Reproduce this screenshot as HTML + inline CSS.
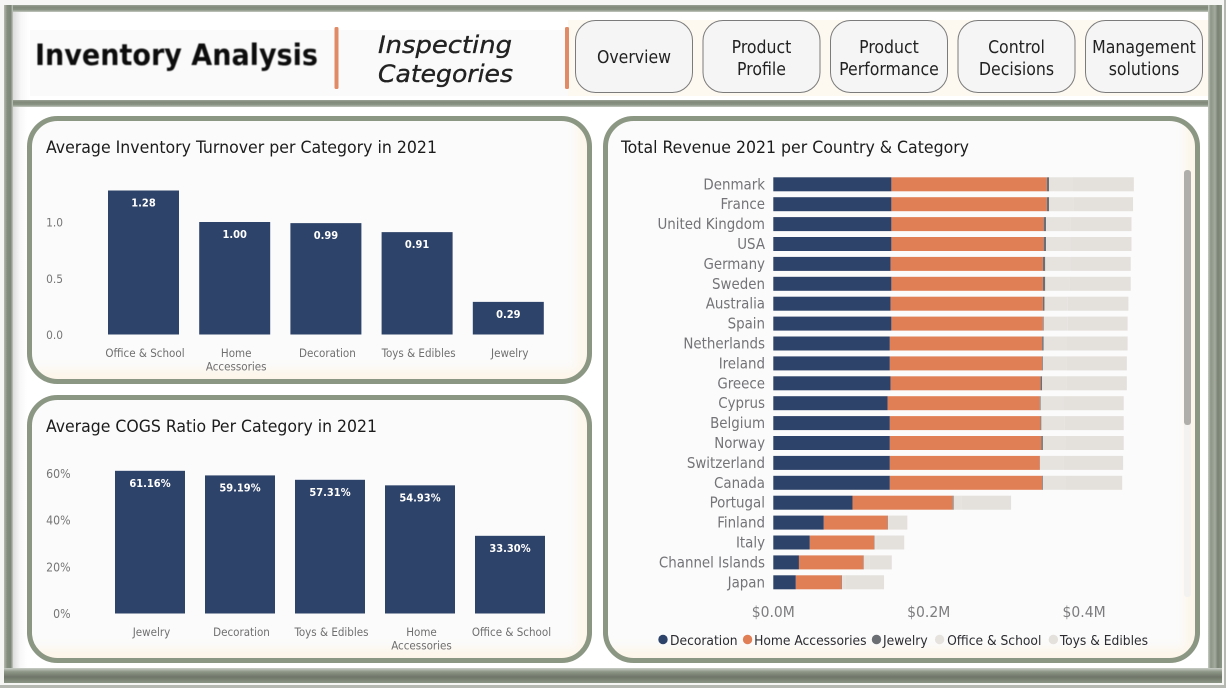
<!DOCTYPE html>
<html lang="en">
<head>
<meta charset="utf-8">
<title>Inventory Analysis</title>
<style>
html,body{margin:0;padding:0;background:#f4f4f2;width:1226px;height:688px;overflow:hidden}
svg{display:block}
text{font-family:"DejaVu Sans","Liberation Sans",sans-serif;font-stretch:condensed}
.btn-text{font-size:17.5px;fill:#222;text-anchor:middle}
.panel-title{font-size:17px;fill:#1c1c1c}
</style>
</head>
<body>
<svg id="dash" xmlns="http://www.w3.org/2000/svg" width="1226" height="688" viewBox="0 0 1226 688">
<defs>
<linearGradient id="bevelLeft" x1="0" y1="0" x2="1" y2="0">
<stop offset="0" stop-color="#dcdcdc"/><stop offset="0.5" stop-color="#f7f7f7"/><stop offset="1" stop-color="#ffffff"/>
</linearGradient>
<linearGradient id="bandH" x1="0" y1="0" x2="0" y2="1">
<stop offset="0" stop-color="#9ba396"/><stop offset="0.3" stop-color="#7f8879"/><stop offset="0.7" stop-color="#8b9585"/><stop offset="1" stop-color="#c3c8bf"/>
</linearGradient>
<linearGradient id="bandV" x1="0" y1="0" x2="1" y2="0">
<stop offset="0" stop-color="#b6bbb1"/><stop offset="0.35" stop-color="#858e7f"/><stop offset="0.75" stop-color="#7e8778"/><stop offset="1" stop-color="#c3c8bf"/>
</linearGradient>
<linearGradient id="bandR" x1="0" y1="0" x2="1" y2="0">
<stop offset="0" stop-color="#c9cdc6"/><stop offset="0.2" stop-color="#8d9687"/><stop offset="0.5" stop-color="#a4aa9f"/><stop offset="0.7" stop-color="#7a8274"/><stop offset="1" stop-color="#8b9585"/>
</linearGradient>
<linearGradient id="bandB" x1="0" y1="0" x2="0" y2="1">
<stop offset="0" stop-color="#c9cdc6"/><stop offset="0.25" stop-color="#8d9687"/><stop offset="0.6" stop-color="#6f7669"/><stop offset="1" stop-color="#8b9585"/>
</linearGradient>
<filter id="soft" x="-5%" y="-20%" width="110%" height="140%"><feGaussianBlur stdDeviation="0.45"/></filter>
<filter id="glow" x="-5%" y="-5%" width="110%" height="110%"><feGaussianBlur stdDeviation="5"/></filter>
<clipPath id="clipA"><rect x="29.500" y="118.500" width="560" height="263" rx="28"/></clipPath>
<clipPath id="clipB"><rect x="29.500" y="397.500" width="560" height="263" rx="28"/></clipPath>
<clipPath id="clipC"><rect x="605.500" y="118.500" width="592" height="542" rx="28"/></clipPath>
</defs>

<rect x="0" y="0" width="1226" height="688" fill="#f6f6f4"/>
<rect x="1224" y="0" width="2" height="688" fill="#b4b8b0"/>
<rect x="0" y="685" width="1226" height="3" fill="#b4b8b0"/>

<rect x="13" y="12" width="1197" height="88" fill="#ffffff"/>
<rect x="13" y="107" width="1197" height="561" fill="#ffffff"/>
<rect x="13" y="12" width="16" height="88" fill="url(#bevelLeft)"/>
<rect x="13" y="107" width="14" height="561" fill="url(#bevelLeft)"/>
<rect x="30" y="30" width="1175" height="66" fill="#fafafa"/>
<rect x="568" y="20" width="640" height="76" fill="#fdf9f1"/>

<g>
<rect x="4" y="5" width="1218" height="7" fill="url(#bandH)"/>
<rect x="4" y="5" width="9" height="678" fill="url(#bandV)"/>
<rect x="13" y="100" width="1197" height="7" fill="url(#bandH)"/>
<rect x="1208" y="5" width="14" height="678" fill="url(#bandR)"/>
<rect x="4" y="668" width="1218" height="15" fill="url(#bandB)"/>
</g>

<text x="35" y="65" font-size="29" font-weight="700" fill="#111" textLength="283" lengthAdjust="spacingAndGlyphs" filter="url(#soft)" style="font-stretch:normal">Inventory Analysis</text>
<rect x="334.500" y="27" width="4" height="62" rx="1.500" fill="#e08a66"/>
<text x="378" y="53" font-size="24" font-style="italic" fill="#222" stroke="#222" stroke-width="0.35" textLength="134" lengthAdjust="spacingAndGlyphs" style="font-stretch:normal">Inspecting</text>
<text x="378" y="82" font-size="24" font-style="italic" fill="#222" stroke="#222" stroke-width="0.35" textLength="135" lengthAdjust="spacingAndGlyphs" style="font-stretch:normal">Categories</text>
<rect x="565" y="27" width="4" height="62" rx="1.500" fill="#e08a66"/>

<g>
<rect x="575.500" y="20.500" width="117" height="72" rx="20" fill="#f5f5f5" stroke="#7b7b7b"/>
<text class="btn-text" x="634" y="63">Overview</text>
</g>
<g>
<rect x="703" y="20.500" width="117" height="72" rx="20" fill="#f5f5f5" stroke="#7b7b7b"/>
<text class="btn-text" x="761.500" y="53">Product</text>
<text class="btn-text" x="761.500" y="75">Profile</text>
</g>
<g>
<rect x="830.500" y="20.500" width="117" height="72" rx="20" fill="#f5f5f5" stroke="#7b7b7b"/>
<text class="btn-text" x="889" y="53">Product</text>
<text class="btn-text" x="889" y="75">Performance</text>
</g>
<g>
<rect x="958" y="20.500" width="117" height="72" rx="20" fill="#f5f5f5" stroke="#7b7b7b"/>
<text class="btn-text" x="1016.500" y="53">Control</text>
<text class="btn-text" x="1016.500" y="75">Decisions</text>
</g>
<g>
<rect x="1085.500" y="20.500" width="117" height="72" rx="20" fill="#f5f5f5" stroke="#7b7b7b"/>
<text class="btn-text" x="1144" y="53">Management</text>
<text class="btn-text" x="1144" y="75">solutions</text>
</g>

<g>
<rect x="29.500" y="118.500" width="560" height="263" rx="28" fill="#fdf5e8"/>
<g clip-path="url(#clipA)"><rect x="20" y="100" width="558" height="270" fill="#fbfbfb" filter="url(#glow)"/></g>
<rect x="29.500" y="118.500" width="560" height="263" rx="28" fill="none" stroke="#8b9683" stroke-width="5"/>
</g>
<g>
<rect x="29.500" y="397.500" width="560" height="263" rx="28" fill="#fdf5e8"/>
<g clip-path="url(#clipB)"><rect x="20" y="380" width="558" height="269" fill="#fbfbfb" filter="url(#glow)"/></g>
<rect x="29.500" y="397.500" width="560" height="263" rx="28" fill="none" stroke="#8b9683" stroke-width="5"/>
</g>
<g>
<rect x="605.500" y="118.500" width="592" height="542" rx="28" fill="#fdf5e8"/>
<g clip-path="url(#clipC)"><rect x="596" y="100" width="590" height="549" fill="#fbfbfb" filter="url(#glow)"/></g>
<rect x="605.500" y="118.500" width="592" height="542" rx="28" fill="none" stroke="#8b9683" stroke-width="5"/>
</g>

<text class="panel-title" x="46" y="153" textLength="391" lengthAdjust="spacingAndGlyphs">Average Inventory Turnover per Category in 2021</text>
<text class="panel-title" x="46" y="432" textLength="331" lengthAdjust="spacingAndGlyphs">Average COGS Ratio Per Category in 2021</text>
<text class="panel-title" x="621" y="153" textLength="348" lengthAdjust="spacingAndGlyphs">Total Revenue 2021 per Country &amp; Category</text>

<rect x="1184" y="170" width="7" height="427" rx="3" fill="#f3f2f0"/>
<rect x="1184" y="170" width="7" height="255" rx="3" fill="#b0aeaa"/>

<g id="turnover-chart"></g>
<g id="cogs-chart"></g>
<g id="revenue-chart"></g>
<g id="revenue-legend"></g>
</svg>

<script>
const turnoverCategories = [["Office & School"], ["Home", "Accessories"], ["Decoration"], ["Toys & Edibles"], ["Jewelry"]];
const turnoverValues = [1.28, 1.00, 0.99, 0.91, 0.29];
const turnoverTicks = [0, 0.5, 1.0];

const cogsCategories = [["Jewelry"], ["Decoration"], ["Toys & Edibles"], ["Home", "Accessories"], ["Office & School"]];
const cogsValues = [61.16, 59.19, 57.31, 54.93, 33.30];
const cogsTicks = [0, 20, 40, 60];

const countries = ["Denmark", "France", "United Kingdom", "USA", "Germany", "Sweden", "Australia", "Spain", "Netherlands", "Ireland", "Greece", "Cyprus", "Belgium", "Norway", "Switzerland", "Canada", "Portugal", "Finland", "Italy", "Channel Islands", "Japan"];
const decoration = [0.152, 0.152, 0.152, 0.152, 0.151, 0.152, 0.151, 0.152, 0.150, 0.150, 0.151, 0.147, 0.150, 0.150, 0.150, 0.150, 0.102, 0.065, 0.047, 0.033, 0.029];
const homeAccessories = [0.200, 0.200, 0.196, 0.196, 0.196, 0.195, 0.196, 0.195, 0.196, 0.196, 0.193, 0.196, 0.194, 0.195, 0.193, 0.196, 0.129, 0.082, 0.083, 0.083, 0.059];
const jewelry = [0.003, 0.003, 0.003, 0.003, 0.003, 0.003, 0.002, 0.001, 0.002, 0.001, 0.002, 0.001, 0.001, 0.002, 0.0002, 0.001, 0.001, 0.0005, 0.0005, 0.0005, 0.0005];
const officeSchool = [0.030, 0.031, 0.032, 0.031, 0.032, 0.031, 0.030, 0.031, 0.030, 0.030, 0.031, 0.029, 0.030, 0.029, 0.030, 0.029, 0.010, 0.002, 0.003, 0.007, 0.005];
const toysEdibles = [0.079, 0.077, 0.078, 0.079, 0.078, 0.079, 0.078, 0.077, 0.078, 0.078, 0.078, 0.078, 0.076, 0.075, 0.077, 0.073, 0.064, 0.023, 0.035, 0.029, 0.049];
const revenueTicks = [0, 0.2, 0.4];
const legendLabels = ["Decoration", "Home Accessories", "Jewelry", "Office & School", "Toys & Edibles"];

const NS = "http://www.w3.org/2000/svg";
const NAVY = "#2e4369", ORANGE = "#e07f55", DARKGRAY = "#6b6e73", LIGHT1 = "#e6e3df", LIGHT2 = "#e4e0dc";
const legendColors = [NAVY, ORANGE, DARKGRAY, "#e6e3df", "#e4e0dc"];

function slug(s) {
  return String(s).toLowerCase().replace(/[^a-z0-9]+/g, "-").replace(/^-|-$/g, "");
}
function addRect(parent, x, y, w, h, fill) {
  const el = document.createElementNS(NS, "rect");
  el.setAttribute("x", x);
  el.setAttribute("y", y);
  el.setAttribute("width", Math.max(0, w));
  el.setAttribute("height", h);
  el.setAttribute("fill", fill);
  parent.appendChild(el);
  return el;
}
function addText(parent, x, y, str, size, fill, anchor, weight) {
  const el = document.createElementNS(NS, "text");
  el.setAttribute("x", x);
  el.setAttribute("y", y);
  el.setAttribute("font-size", size);
  el.setAttribute("fill", fill);
  el.setAttribute("text-anchor", anchor);
  if (weight) el.setAttribute("font-weight", weight);
  el.textContent = str;
  parent.appendChild(el);
  return el;
}

function columnChart(opts) {
  const g = document.getElementById(opts.id);
  const yScale = v => opts.base - v * opts.unit;
  opts.ticks.forEach(t => {
    const tick = addText(g, opts.tickX, yScale(t) + 4.5, opts.tickFormat(t), opts.tickSize, "#767676", "end");
    
    
  });
  opts.values.forEach((v, i) => {
    const x = opts.x0 + i * opts.step;
    const bar = addRect(g, x, yScale(v), opts.barW, v * opts.unit, NAVY);
    
    
    const lab = addText(g, x + opts.barW / 2, yScale(v) + 16, opts.valueFormat(v), 11, "#ffffff", "middle", "700");
    
    
    opts.categories[i].forEach((line, k) => {
      const cat = addText(g, x + opts.barW / 2 + 1.5, opts.catY + k * 13.5, line, 11.5, "#6f6f6f", "middle");
      
      
    });
  });
}

columnChart({
  id: "turnover-chart", prefix: "turnover", categories: turnoverCategories, values: turnoverValues, ticks: turnoverTicks,
  base: 334.5, unit: 112.5, x0: 108, step: 91.2, barW: 71, tickX: 63, tickSize: 11.8, catY: 357,
  tickFormat: t => t.toFixed(1), valueFormat: v => v.toFixed(2)
});
columnChart({
  id: "cogs-chart", prefix: "cogs", categories: cogsCategories, values: cogsValues, ticks: cogsTicks,
  base: 613.5, unit: 2.333, x0: 115, step: 90, barW: 70, tickX: 70.5, tickSize: 12.2, catY: 636,
  tickFormat: t => t + "%", valueFormat: v => v.toFixed(2) + "%"
});

const revG = document.getElementById("revenue-chart");
const xScale = v => 773.3 + v * 777;
const rowY = i => 177.300 + i * 19.9;
const rowH = 14;
countries.forEach((name, i) => {
  const label = addText(revG, 765, rowY(i) + 12, name, 14.9, "#747478", "end");
  
  
  const series = [decoration[i], homeAccessories[i], jewelry[i], officeSchool[i], toysEdibles[i]];
  const fills = [NAVY, ORANGE, DARKGRAY, LIGHT1, LIGHT2];
  let cum = 0;
  series.forEach((v, s) => {
    const seg = addRect(revG, xScale(cum), rowY(i), v * 777, rowH, fills[s]);
    
    
    cum += v;
  });
});
revenueTicks.forEach(t => {
  const tick = addText(revG, xScale(t), 617, "$" + t.toFixed(1) + "M", 15.5, "#7d7d80", "middle");
  
  
});

const legG = document.getElementById("revenue-legend");
let legendX = 658.5;
const legendGap = [7, 6.5, 6.5, 7.500, 6.5];
const legendAfter = [5.5, 5.5, 7.5, 7.5, 6];
legendLabels.forEach((name, i) => {
  const dot = document.createElementNS(NS, "circle");
  dot.setAttribute("cx", legendX + 4.5);
  dot.setAttribute("cy", 639.5);
  dot.setAttribute("r", 4.7);
  dot.setAttribute("fill", legendColors[i]);
  
  
  legG.appendChild(dot);
  const t = addText(legG, legendX + 4.5 + legendGap[i], 645, name, 13.7, "#2b2b30", "start");
  
  
  const w = t.getComputedTextLength();
  legendX = legendX + 4.5 + legendGap[i] + w + legendAfter[i];
});
</script>
</body>
</html>
